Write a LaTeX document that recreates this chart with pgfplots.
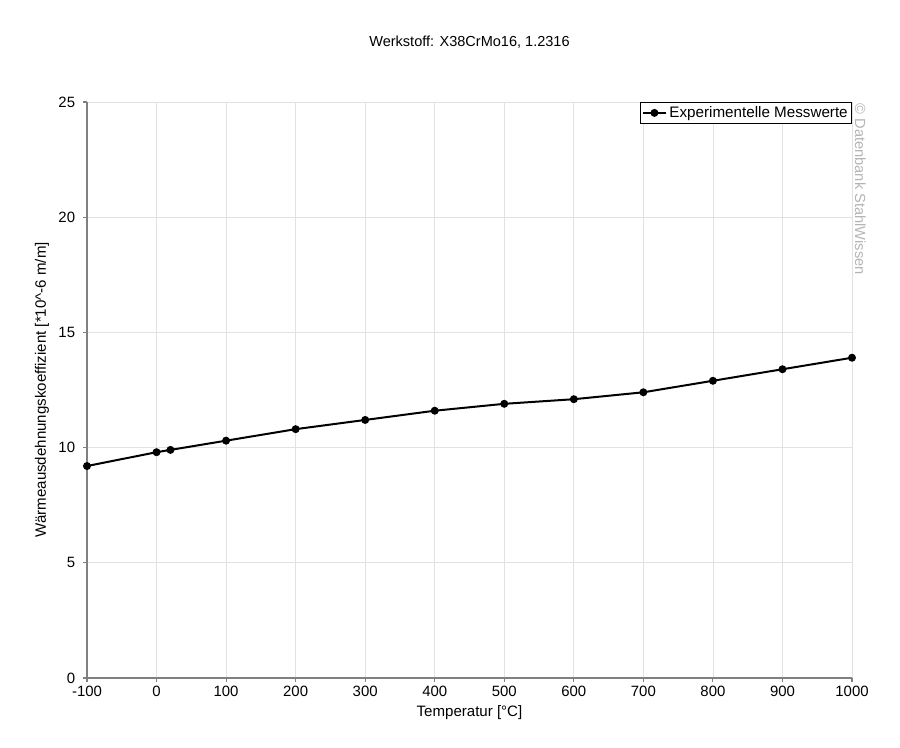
\documentclass[border=0pt]{standalone}
\usepackage{pgfplots}
\pgfplotsset{compat=1.18}
\usepackage{fontspec}
\setmainfont{Liberation Sans}
\definecolor{axisgray}{HTML}{808080}
\definecolor{gridgray}{HTML}{E2E2E2}
\definecolor{markgray}{HTML}{B4B4B4}
\begin{document}
\begin{tikzpicture}
\fontsize{11.2}{13.4}\selectfont
\begin{axis}[
    scale only axis,
    width=573.75pt, height=432pt,
    xmin=-100, xmax=1000, ymin=0, ymax=25,
    xtick={-100,0,...,1000}, ytick={0,5,...,25},
    axis lines=left,
    axis line style={-, axisgray, line width=1pt},
    tick style={axisgray, line width=0.8pt},
    tick align=outside, major tick length=3pt,
    grid=major,
    major grid style={gridgray, line width=0.6pt},
    /pgf/number format/assume math mode=true,
    /pgf/number format/1000 sep={},
    ticklabel style={font=\fontsize{11.2}{13.4}\selectfont},
    xticklabel style={yshift=1pt},
    yticklabel style={xshift=-2pt},
    xlabel={Temperatur [°C]},
    ylabel={Wärmeausdehnungskoeffizient [*10\string^-6 m/m]},
    xlabel style={at={(axis description cs:0.5,-0.0608)}, anchor=center},
    ylabel style={at={(axis description cs:-0.0588,0.5)}, anchor=center},
    label style={font=\fontsize{11.3}{13.4}\selectfont},
    legend style={at={(1,1)}, anchor=north east, draw=black,
        font=\fontsize{11.4}{13.4}\selectfont, inner sep=1pt,
        row sep=-1pt, legend cell align=left},
    clip=false,
]
\addplot[black, line width=1.5pt, mark=*, mark size=2.2pt] coordinates {
    (-100, 9.2)
    (   0, 9.8)
    (  20, 9.9)
    ( 100, 10.3)
    ( 200, 10.8)
    ( 300, 11.2)
    ( 400, 11.6)
    ( 500, 11.9)
    ( 600, 12.1)
    ( 700, 12.4)
    ( 800, 12.9)
    ( 900, 13.4)
    (1000, 13.9)
};
\addlegendentry{Experimentelle Messwerte}
\end{axis}
\node[anchor=center, font=\fontsize{10.9}{13}\selectfont]
    at ([yshift=45pt]current axis.north) {Werkstoff: X38CrMo16, 1.2316};
\node[rotate=-90, anchor=south west, text=markgray, inner sep=0pt,
    font=\fontsize{11}{13}\selectfont]
    at ([xshift=2pt, yshift=-1pt]current axis.north east) {© Datenbank StahlWissen};
\path ([xshift=-65.25pt, yshift=-52.5pt]current axis.south west)
    rectangle ([xshift=36pt, yshift=76.5pt]current axis.north east);
\end{tikzpicture}
\end{document}
